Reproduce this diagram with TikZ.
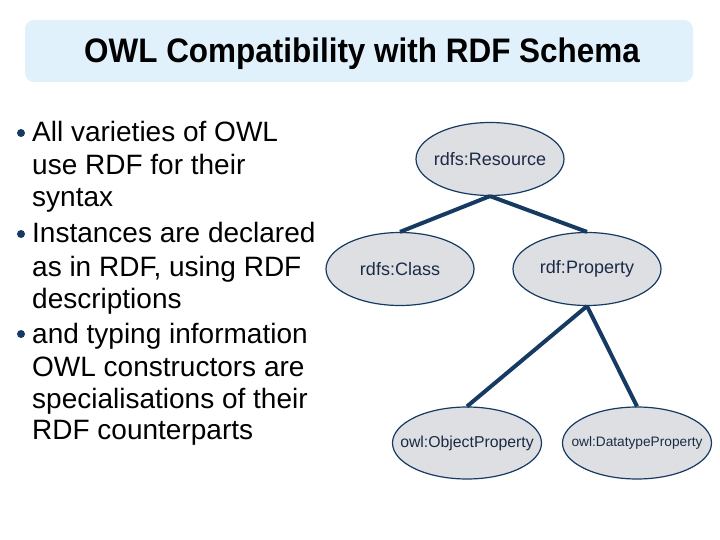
\documentclass[tikz,border=0pt]{standalone}
\usepackage{fontspec}
\setmainfont{Liberation Sans}
\usetikzlibrary{shapes.geometric}
\definecolor{navy}{HTML}{173A63}
\definecolor{ellfill}{HTML}{DEDFE3}
\definecolor{titlebg}{HTML}{E1F1FC}
\definecolor{ltext}{HTML}{1A2B45}
\newcommand{\nowidth}[1]{\makebox[0pt]{#1}}
\tikzset{
  cls/.style={ellipse, draw=navy, line width=1.2pt, fill=ellfill, minimum width=148pt, minimum height=73pt, inner sep=0pt, text=ltext},
  link/.style={draw=navy, line width=4pt},
  bl/.style={anchor=base west, inner sep=0pt, font=\fontsize{28}{30}\selectfont},
  dot/.style={circle, fill=navy, inner sep=0pt, minimum size=8pt}
}
\begin{document}
\begin{tikzpicture}[x=1pt,y=-1pt]
\useasboundingbox (0,0) rectangle (720,540);
\node[draw=none, fill=titlebg, rounded corners=9pt, minimum width=668pt, minimum height=62pt] (tbox) at (359,51) {};
\node[anchor=base, inner sep=0pt, font=\fontsize{34}{36}\selectfont\bfseries] (title) at (362,63) {\scalebox{0.925}[1]{OWL Compatibility with RDF Schema}};

\node[dot] (d1) at (21,133) {};
\node[bl] (l1) at (32,142) {All varieties of OWL};
\node[bl] (l2) at (32,175) {use RDF for their};
\node[bl] (l3) at (32,207) {syntax};
\node[dot] (d2) at (21,234) {};
\node[bl] (l4) at (32,243) {Instances are declared};
\node[bl] (l5) at (32,276) {as in RDF, using RDF};
\node[bl] (l6) at (32,308) {descriptions};
\node[dot] (d3) at (21,334) {};
\node[bl] (l7) at (32,343) {and typing information};
\node[bl] (l8) at (32,376) {OWL constructors are};
\node[bl] (l9) at (32,408) {specialisations of their};
\node[bl] (l10) at (32,439) {RDF counterparts};

\node[cls, font=\fontsize{18}{20}\selectfont] (res) at (490,159) {\nowidth{rdfs:Resource}};
\node[cls, font=\fontsize{18}{20}\selectfont] (class) at (400,269) {\nowidth{rdfs:Class}};
\node[cls, font=\fontsize{18}{20}\selectfont] (prop) at (587,269) {\nowidth{rdf:Property}};
\node[cls, font=\fontsize{15.8}{18}\selectfont, minimum width=149pt, minimum height=72pt] (obj) at (467,443) {\nowidth{owl:ObjectProperty}};
\node[cls, font=\fontsize{13.7}{16}\selectfont, minimum width=149pt, minimum height=72pt] (dat) at (637,443) {\nowidth{owl:DatatypeProperty}};

\draw[link] (res.south) -- (class.north);
\draw[link] (res.south) -- (prop.north);
\draw[link] (prop.south) -- (obj.north);
\draw[link] (prop.south) -- (dat.north);
\end{tikzpicture}
\end{document}
